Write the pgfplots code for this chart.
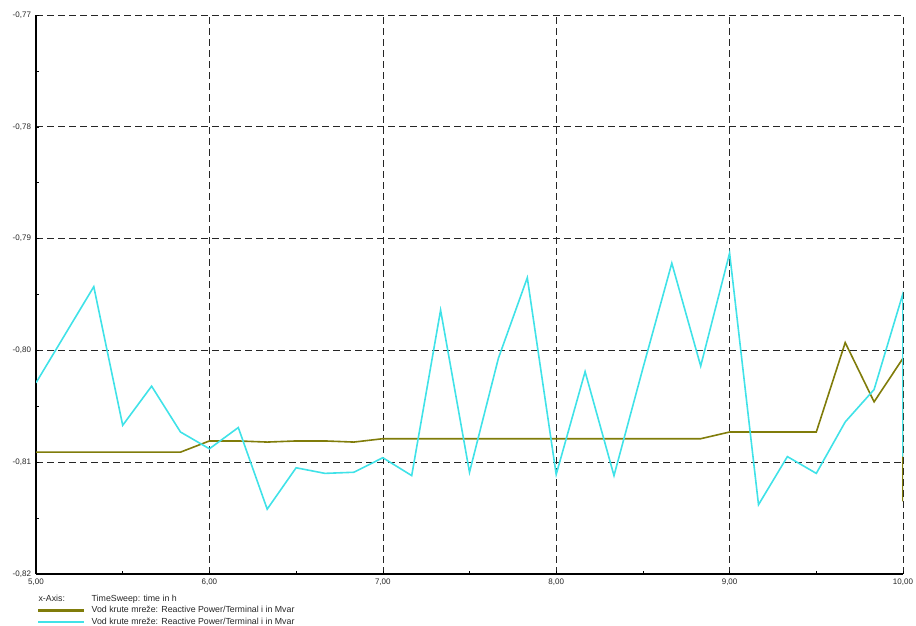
\documentclass[border=0pt]{standalone}
\usepackage{fontspec}
\setmainfont{Liberation Sans}
\usepackage{pgfplots}
\pgfplotsset{compat=1.18}
\definecolor{olivel}{RGB}{128,124,10}
\definecolor{cyanl}{RGB}{64,226,232}
\begin{document}
\begin{tikzpicture}
\path[use as bounding box] (0,0) rectangle (916pt,626pt);
\begin{axis}[
  at={(36pt,52pt)}, anchor=south west, scale only axis,
  width=867pt, height=559pt,
  xmin=5, xmax=10, ymin=-0.82, ymax=-0.77,
  axis lines*=left, axis line style={-, line width=1.2pt, black},
  xtick={5,6,7,8,9,10},
  ytick={-0.82,-0.81,-0.80,-0.79,-0.78,-0.77},
  minor tick num=1, tick align=inside,
  major tick length=3pt, minor tick length=3pt,
  tick style={black, line width=0.5pt},
  grid=major,
  major grid style={black!85, dash pattern=on 7pt off 4pt, line width=0.6pt},
  /pgf/number format/assume math mode=true,
  /pgf/number format/.cd, fixed, fixed zerofill, precision=2, use comma,
  /pgfplots/.cd,
  ticklabel style={font=\fontsize{8}{9}\selectfont, text=black!85},
  xticklabel style={yshift=-1.5pt},
  yticklabel style={xshift=-1.5pt},
  legend style={at={(axis description cs:0.001,-0.035)}, anchor=north west,
    draw=none, fill=none, inner sep=0pt, row sep=1pt,
    font=\fontsize{8.8}{10}\selectfont, text=black!85,
    nodes={inner sep=1pt, anchor=west, text height=6.5pt, text depth=2pt}},
  legend cell align=left,
  legend image code/.code={\draw[#1, line width=2.6pt] (0pt,0pt) -- (46pt,0pt);},
]
\addlegendimage{legend image code/.code={\node[anchor=west, inner sep=0pt, font=\fontsize{8.8}{10}\selectfont, text=black!85] at (0pt,0pt) {x-Axis:};\node[inner sep=0pt] at (46pt,0pt) {};}}
\addlegendentry{\hspace{5pt}TimeSweep: time in h}
\addplot[olivel, line width=1.6pt] coordinates {
(5.0,-0.8091) (5.1667,-0.8091) (5.3333,-0.8091) (5.5,-0.8091) (5.6667,-0.8091) (5.8333,-0.8091)
(6.0,-0.8081) (6.1667,-0.8081) (6.3333,-0.8082) (6.5,-0.8081) (6.6667,-0.8081) (6.8333,-0.8082)
(7.0,-0.8079) (7.1667,-0.8079) (7.3333,-0.8079) (7.5,-0.8079) (7.6667,-0.8079) (7.8333,-0.8079)
(8.0,-0.8079) (8.1667,-0.8079) (8.3333,-0.8079) (8.5,-0.8079) (8.6667,-0.8079) (8.8333,-0.8079)
(9.0,-0.8073) (9.1667,-0.8073) (9.3333,-0.8073) (9.5,-0.8073) (9.6667,-0.7993) (9.8333,-0.8046)
(10.0,-0.8007) (10.0,-0.8135)
};
\addlegendentry{\hspace{5pt}Vod krute mreže: Reactive Power/Terminal i in Mvar}
\addplot[cyanl, line width=1.6pt] coordinates {
(5.0,-0.8029) (5.1667,-0.7986) (5.3333,-0.7943) (5.5,-0.8067) (5.6667,-0.8032) (5.8333,-0.8073)
(6.0,-0.8088) (6.1667,-0.8069) (6.3333,-0.8142) (6.5,-0.8105) (6.6667,-0.8110) (6.8333,-0.8109)
(7.0,-0.8096) (7.1667,-0.8112) (7.3333,-0.7964) (7.5,-0.8109) (7.6667,-0.8007) (7.8333,-0.7935)
(8.0,-0.8111) (8.1667,-0.8019) (8.3333,-0.8112) (8.5,-0.8016) (8.6667,-0.7922) (8.8333,-0.8014)
(9.0,-0.7913) (9.1667,-0.8138) (9.3333,-0.8095) (9.5,-0.8110) (9.6667,-0.8064) (9.8333,-0.8035)
(10.0,-0.7949) (10.0,-0.8095)
};
\addlegendentry{\hspace{5pt}Vod krute mreže: Reactive Power/Terminal i in Mvar}
\end{axis}
\end{tikzpicture}
\end{document}
